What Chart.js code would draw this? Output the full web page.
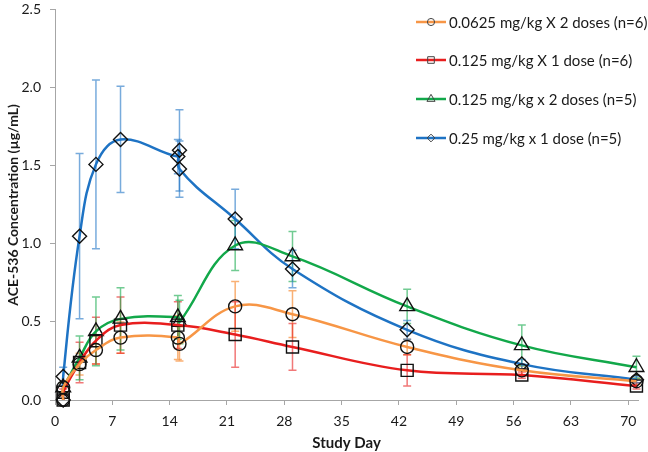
<!DOCTYPE html>
<html>
<head>
<meta charset="utf-8">
<script src="https://cdn.jsdelivr.net/npm/chart.js@4.4.1/dist/chart.umd.min.js"></script>
<style>
  html, body { margin: 0; padding: 0; background: #fff; }
  #wrap { width: 648px; height: 452px; position: relative; }
</style>
</head>
<body>
<div id="wrap"><canvas id="chart"></canvas></div>
<script>
// Series labels
const LABELS = [
  '0.0625 mg/kg X 2 doses (n=6)',
  '0.125 mg/kg X 1 dose (n=6)',
  '0.125 mg/kg x 2 doses (n=5)',
  '0.25 mg/kg x 1 dose (n=5)'
];

// Study days, mean concentration and SD for each group
const daysA = [1, 1, 3, 5, 8, 15, 15.2, 22, 29, 43, 57, 71];
const meanA = [0, 0.08, 0.23, 0.32, 0.40, 0.40, 0.36, 0.60, 0.55, 0.34, 0.19, 0.12];
const sdA   = [0, 0.03, 0.07, 0.09, 0.10, 0.14, 0.11, 0.16, 0.15, 0.05, 0.03, 0.02];

const daysB = [1, 1, 3, 5, 8, 15, 22, 29, 43, 57, 71];
const meanB = [0, 0.05, 0.24, 0.38, 0.48, 0.48, 0.42, 0.34, 0.19, 0.16, 0.09];
const sdB   = [0, 0.02, 0.13, 0.15, 0.18, 0.15, 0.21, 0.15, 0.10, 0.02, 0.02];

const daysC = [1, 3, 5, 8, 15, 15.2, 22, 29, 43, 57, 71];
const meanC = [0.08, 0.27, 0.44, 0.52, 0.53, 0.50, 0.99, 0.92, 0.60, 0.35, 0.21];
const sdC   = [0.03, 0.14, 0.22, 0.20, 0.14, 0.14, 0.16, 0.16, 0.11, 0.13, 0.07];

const daysD = [1, 1, 3, 5, 8, 15, 15.2, 15.2, 22, 29, 43, 57, 71];
const meanD = [0, 0.15, 1.05, 1.51, 1.67, 1.56, 1.60, 1.48, 1.16, 0.84, 0.45, 0.23, 0.13];
const sdD   = [0, 0.06, 0.53, 0.54, 0.34, 0.11, 0.26, 0.18, 0.19, 0.12, 0.06, 0.03, 0.02];

// Axis ticks
const X_TICKS = [0, 7, 14, 21, 28, 35, 42, 49, 56, 63, 70];
const Y_TICKS = [0, 0.5, 1.0, 1.5, 2.0, 2.5];

const FONT = "Lato, 'Open Sans', sans-serif";

function toPoints(days, means) {
  return days.map((d, i) => ({ x: d, y: means[i] }));
}

const seriesDefs = [
  { days: daysA, mean: meanA, sd: sdA, color: '#F79646', errColor: 'rgba(247,150,70,0.75)', style: 'circle', radius: 6.5 },
  { days: daysB, mean: meanB, sd: sdB, color: '#E81E1E', errColor: 'rgba(232,30,30,0.6)', style: 'rect', radius: 8.5 },
  { days: daysC, mean: meanC, sd: sdC, color: '#12A84A', errColor: 'rgba(18,168,74,0.6)', style: 'triangle', radius: 8.5 },
  { days: daysD, mean: meanD, sd: sdD, color: '#1E73C4', errColor: 'rgba(30,115,196,0.6)', style: 'rectRot', radius: 7 }
];

const datasets = seriesDefs.map((s, i) => ({
  label: LABELS[i],
  data: toPoints(s.days, s.mean),
  sd: s.sd,
  errColor: s.errColor,
  showLine: true,
  borderColor: s.color,
  borderWidth: 2.5,
  tension: 0.4,
  pointStyle: s.style,
  pointRadius: s.radius,
  pointHoverRadius: s.radius,
  pointBorderColor: '#111',
  pointBorderWidth: 1.4,
  pointBackgroundColor: 'rgba(0,0,0,0)',
  clip: false
}));

// Error bars, drawn under the lines
const errorBars = {
  id: 'errorBars',
  beforeDatasetsDraw(chart) {
    const ctx = chart.ctx;
    const yScale = chart.scales.y;
    chart.data.datasets.forEach((ds, di) => {
      const meta = chart.getDatasetMeta(di);
      ctx.save();
      ctx.strokeStyle = ds.errColor;
      ctx.lineWidth = 1.5;
      meta.data.forEach((pt, i) => {
        const sd = ds.sd[i];
        if (!sd) return;
        const v = ds.data[i].y;
        const top = yScale.getPixelForValue(v + sd);
        const bot = yScale.getPixelForValue(v - sd);
        ctx.beginPath();
        ctx.moveTo(pt.x, top);
        ctx.lineTo(pt.x, bot);
        ctx.moveTo(pt.x - 4, top);
        ctx.lineTo(pt.x + 4, top);
        ctx.moveTo(pt.x - 4, bot);
        ctx.lineTo(pt.x + 4, bot);
        ctx.stroke();
      });
      ctx.restore();
    });
  }
};

// Legend in the upper right of the plot
const insideLegend = {
  id: 'insideLegend',
  afterDraw(chart) {
    const ctx = chart.ctx;
    const x0 = 416;
    const rows = [22, 60, 99, 138];
    ctx.save();
    chart.data.datasets.forEach((ds, i) => {
      const y = rows[i];
      ctx.strokeStyle = ds.borderColor;
      ctx.lineWidth = 2.5;
      ctx.beginPath();
      ctx.moveTo(x0, y);
      ctx.lineTo(x0 + 30, y);
      ctx.stroke();
      ctx.lineWidth = 1;
      ctx.strokeStyle = '#444';
      ctx.fillStyle = 'rgba(0,0,0,0)';
      Chart.helpers.drawPoint(ctx, {
        pointStyle: ds.pointStyle,
        radius: ds.pointRadius * 0.55,
        borderWidth: 1,
        rotation: 0
      }, x0 + 15, y);
      ctx.fillStyle = '#1a1a1a';
      ctx.font = '15px ' + FONT;
      ctx.textAlign = 'left';
      ctx.textBaseline = 'middle';
      ctx.fillText(ds.label, x0 + 33, y + 1);
    });
    ctx.restore();
  }
};

new Chart(document.getElementById('chart'), {
  type: 'scatter',
  data: { datasets },
  plugins: [errorBars, insideLegend],
  options: {
    responsive: true,
    maintainAspectRatio: false,
    animation: false,
    layout: { padding: { top: 7, right: 6, left: 0, bottom: 0 } },
    plugins: {
      legend: { display: false },
      tooltip: { enabled: false }
    },
    scales: {
      x: {
        type: 'linear',
        min: 0,
        max: 71.2,
        afterBuildTicks: scale => {
          scale.ticks = X_TICKS.map(v => ({ value: v }));
        },
        afterFit: scale => {
          scale.height = 52;
          scale.paddingLeft = 0;
          scale.paddingRight = 0;
        },
        border: { color: '#a6a6a6', width: 1 },
        grid: { drawOnChartArea: false, drawTicks: true, tickLength: 5, color: '#a6a6a6' },
        ticks: {
          color: '#1a1a1a',
          padding: 8,
          maxRotation: 0,
          autoSkip: false,
          font: { family: FONT, size: 14 }
        },
        title: {
          display: true,
          text: 'Study Day',
          color: '#1a1a1a',
          padding: { top: 0, bottom: 0 },
          font: { family: FONT, size: 15, weight: 'bold' }
        }
      },
      y: {
        min: 0,
        max: 2.5,
        afterBuildTicks: scale => {
          scale.ticks = Y_TICKS.map(v => ({ value: v }));
        },
        afterFit: scale => {
          scale.width = 55;
          scale.paddingTop = 0;
          scale.paddingBottom = 0;
        },
        border: { color: '#a6a6a6', width: 1 },
        grid: { drawOnChartArea: false, drawTicks: true, tickLength: 5, color: '#a6a6a6' },
        ticks: {
          color: '#1a1a1a',
          padding: 9,
          font: { family: FONT, size: 14 },
          callback: v => v.toFixed(1)
        },
        title: {
          display: true,
          text: 'ACE-536 Concentration (µg/mL)',
          color: '#1a1a1a',
          padding: { top: 5, bottom: 0 },
          font: { family: FONT, size: 14, weight: 'bold' }
        }
      }
    }
  }
});
</script>
</body>
</html>
